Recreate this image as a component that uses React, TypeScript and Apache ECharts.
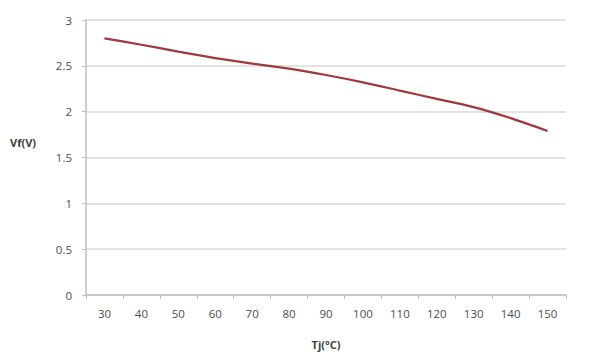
import React, { useEffect, useRef } from "react";
import * as echarts from "echarts";

const categories = ["30", "40", "50", "60", "70", "80", "90", "100", "110", "120", "130", "140", "150"];
const vfValues = [2.8, 2.73, 2.655, 2.585, 2.525, 2.47, 2.4, 2.32, 2.23, 2.14, 2.05, 1.93, 1.79];
const yTicks = [0, 0.5, 1, 1.5, 2, 2.5, 3];
const xName = "Tj(°C)";
const yName = "Vf(V)";

export default function App() {
  const ref = useRef<HTMLDivElement>(null);
  useEffect(() => {
    if (!ref.current) return;
    const chart = echarts.init(ref.current, null, { renderer: "svg" });
    const font = "'Open Sans', sans-serif";
    chart.setOption({
      animation: false,
      backgroundColor: "#ffffff",
      grid: { left: 78, right: 42, top: 12, bottom: 74 },
      xAxis: {
        type: "category",
        data: categories,
        boundaryGap: true,
        name: xName,
        nameLocation: "middle",
        nameGap: 44,
        nameTextStyle: { fontFamily: font, fontSize: 11, fontWeight: "bold", color: "#404040" },
        axisLine: { lineStyle: { color: "#bfbfbf", width: 1.5 } },
        axisTick: { show: true, length: 4, lineStyle: { color: "#bfbfbf" } },
        axisLabel: { fontFamily: font, fontSize: 11.5, color: "#4d4d4d", margin: 12 },
      },
      yAxis: {
        type: "value",
        min: 0,
        max: 3,
        interval: 0.5,
        axisLine: { show: true, lineStyle: { color: "#bfbfbf", width: 1.5 } },
        axisTick: { show: true, length: 4, lineStyle: { color: "#bfbfbf" } },
        axisLabel: {
          fontFamily: font,
          fontSize: 11.5,
          color: "#4d4d4d",
          margin: 14,
          formatter: (v: number) => (yTicks.includes(v) ? String(v) : ""),
        },
        splitLine: { lineStyle: { color: "#d9d9d9", width: 1.5 } },
      },
      graphic: [
        {
          type: "text",
          left: 2,
          top: 129,
          style: { text: yName, font: `bold 11px ${font}`, fill: "#404040" },
        },
      ],
      series: [
        {
          type: "line",
          data: vfValues,
          smooth: 0.3,
          showSymbol: false,
          lineStyle: { color: "#a0393c", width: 2.2 },
        },
      ],
    });
    return () => chart.dispose();
  }, []);
  return <div ref={ref} style={{ width: 600, height: 361 }} />;
}
